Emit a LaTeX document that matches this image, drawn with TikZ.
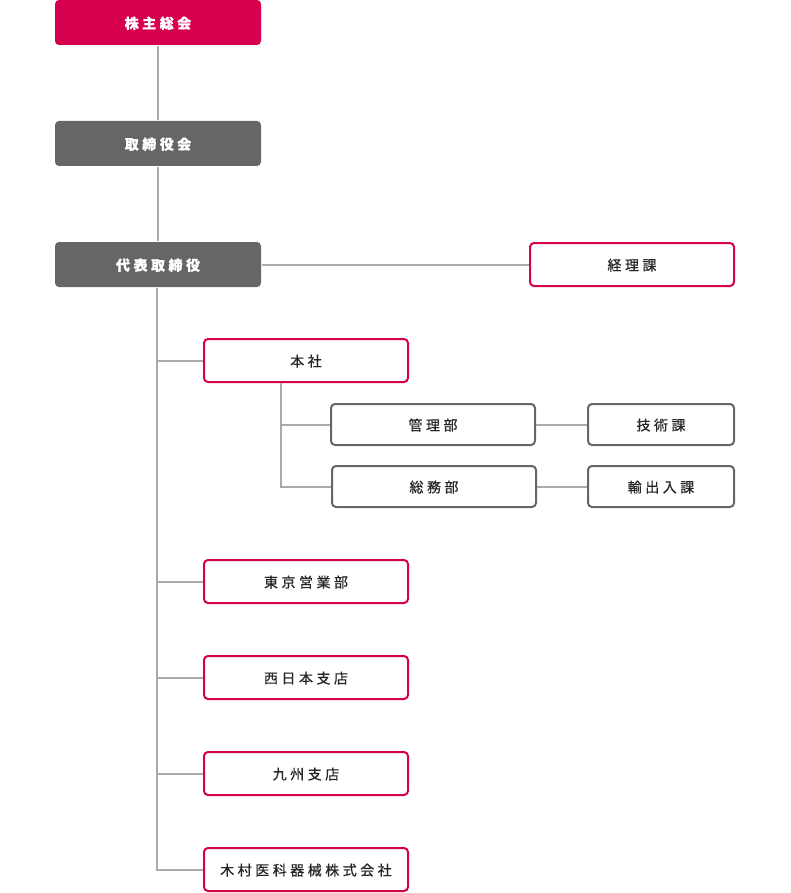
\documentclass[tikz,border=0pt]{standalone}
\usepackage{fontspec}
\newfontfamily\jp[LetterSpace=25,FakeBold=0.6]{Noto Sans CJK JP}
\usetikzlibrary{calc,positioning}
\definecolor{crimson}{HTML}{D6004F}
\definecolor{darkgray}{HTML}{666666}
\definecolor{linegray}{HTML}{AAAAAA}
\begin{document}
\begin{tikzpicture}[x=1pt,y=-1pt,line width=2pt,
  box/.style={rectangle,rounded corners=4pt,minimum width=204pt,minimum height=43pt,inner sep=0pt,text depth=-1pt,font=\jp\fontsize{14}{16}\selectfont},
  topbox/.style={box,fill=#1,text=white,minimum width=206pt,minimum height=45pt,font=\jp\bfseries\fontsize{14}{16}\selectfont},
  redbox/.style={box,draw=crimson,fill=white,text=black!85},
  graybox/.style={box,draw=darkgray,fill=white,text=black!85,minimum height=41pt},
  link/.style={draw=linegray,line width=2pt}]
\useasboundingbox (0,0) rectangle (790,893);
%top of the chart
\node[topbox=crimson] (KABU) at (158,22.5) {株主総会};
\node[topbox=darkgray] (TORI) at (158,143.5) {取締役会};
\node[topbox=darkgray] (DAIHYO) at (158,264.5) {代表取締役};
\node[redbox] (KEIRI) at (632,264.5) {経理課};
%branches
\node[redbox] (HONSHA) at (306,360.5) {本社};
\node[graybox] (KANRI) at (433,424.5) {管理部};
\node[graybox] (SOMU) at (434,486.5) {総務部};
\node[graybox,minimum width=146pt] (GIJUTSU) at (661,424.5) {技術課};
\node[graybox,minimum width=146pt] (YUSHUTSU) at (661,486.5) {輸出入課};
\node[redbox] (TOKYO) at (306,581.5) {東京営業部};
\node[redbox] (NISHI) at (306,677.5) {西日本支店};
\node[redbox] (KYUSHU) at (306,773.5) {九州支店};
\node[redbox] (KIMURA) at (306,869.5) {木村医科器械株式会社};
%the links
\coordinate (TRUNK) at ($(DAIHYO.south)+(-1,0)$);
\coordinate (HB) at ($(HONSHA.south)+(-25,0)$);
\draw[link] (KABU) -- (TORI);
\draw[link] (TORI) -- (DAIHYO);
\draw[link] (DAIHYO) -- (KEIRI);
\foreach \name in {HONSHA,TOKYO,NISHI,KYUSHU,KIMURA} {
  \draw[link] (TRUNK) |- (\name.west);
}
\draw[link] (HB) |- (KANRI.west);
\draw[link] (HB) |- (SOMU.west);
\draw[link] (KANRI) -- (GIJUTSU);
\draw[link] (SOMU) -- (YUSHUTSU);
\end{tikzpicture}
\end{document}
